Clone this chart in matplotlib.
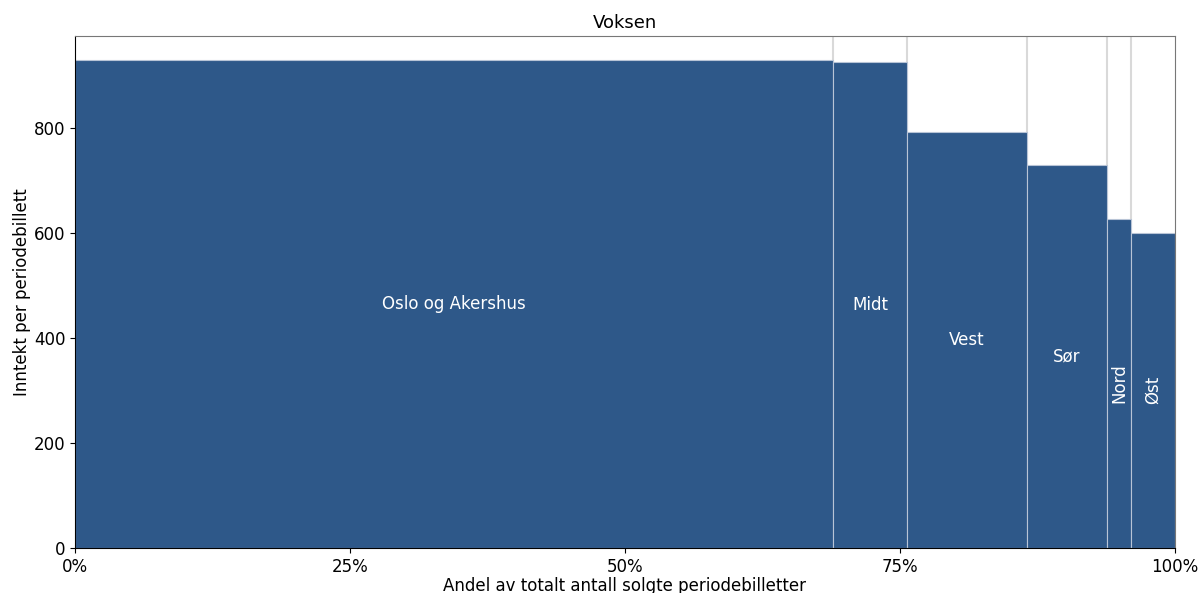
import numpy as np
import matplotlib
matplotlib.use("Agg")
import matplotlib.pyplot as plt
from matplotlib.ticker import PercentFormatter

# Regions, share of sold period tickets (%) and revenue per ticket
regions = ["Oslo og Akershus", "Midt", "Vest", "Sør", "Nord", "Øst"]
share = [68.9, 6.75, 10.9, 7.3, 2.15, 4.0]
revenue = [928, 924, 792, 728, 627, 600]
rotated = [False, False, False, False, True, True]

color = "#2e5889"

fig = plt.figure(figsize=(12.02, 5.93), dpi=100)
ax = fig.add_axes([0.0624, 0.0759, 0.915, 0.8634])

left = np.concatenate([[0], np.cumsum(share)[:-1]])
ymax = max(revenue) * 1.05

# light separators spanning full height
for x in np.cumsum(share)[:-1]:
    ax.axvline(x, color="#d9d9d9", lw=1.5, zorder=1)

ax.bar(left, revenue, width=share, align="edge", color=color,
       edgecolor="#b8c4d6", linewidth=0.8, zorder=2)

for l, w, h, name, rot in zip(left, share, revenue, regions, rotated):
    ax.text(l + w / 2, h / 2, name, color="white", fontsize=12,
            ha="center", va="center", rotation=90 if rot else 0, zorder=3)

ax.set_xlim(0, 100)
ax.set_ylim(0, ymax)
ax.set_xticks([0, 25, 50, 75, 100])
ax.xaxis.set_major_formatter(PercentFormatter(decimals=0))
ax.set_yticks([0, 200, 400, 600, 800])
ax.tick_params(labelsize=12)
ax.set_title("Voksen", fontsize=13, pad=6)
ax.set_xlabel("Andel av totalt antall solgte periodebilletter", fontsize=12, labelpad=1)
ax.set_ylabel("Inntekt per periodebillett", fontsize=12, labelpad=2)
for s in ["top", "right"]:
    ax.spines[s].set_color("#777777")

fig.savefig("out.png", dpi=100)
